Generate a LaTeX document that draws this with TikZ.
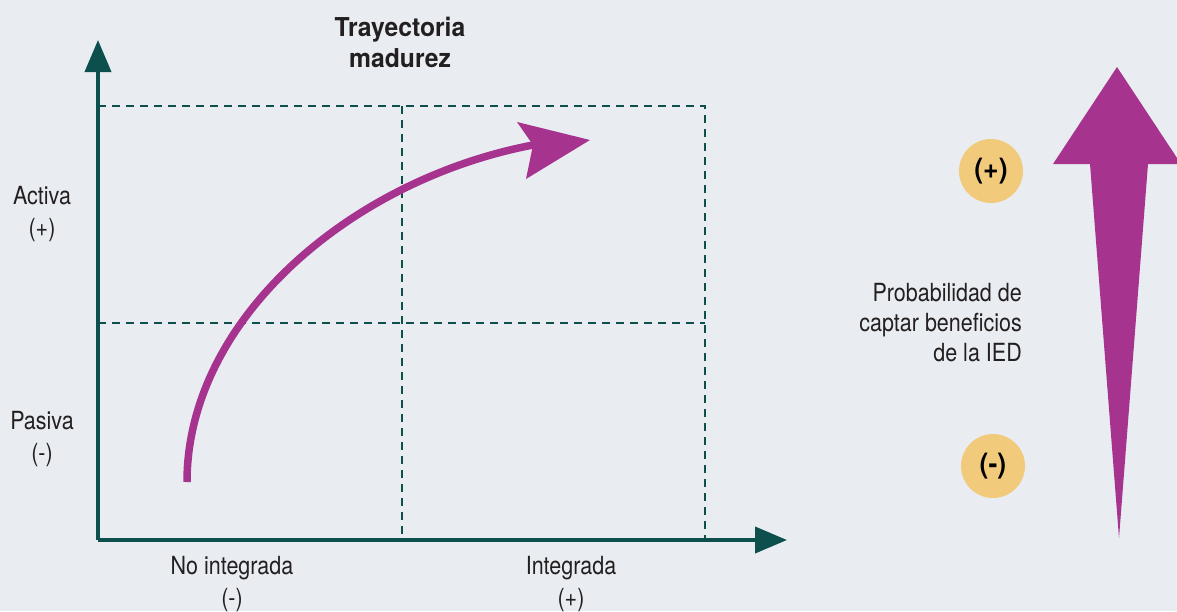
\documentclass[tikz,border=0pt]{standalone}
\usepackage{fontspec}
\setmainfont{TeX Gyre Heros}[FakeStretch=0.86]
\newfontfamily\titlefont{TeX Gyre Heros}[FakeStretch=0.95]
\usetikzlibrary{arrows.meta,positioning}
\definecolor{bgcol}{HTML}{E9EDF2}
\definecolor{tealc}{HTML}{0D4F4D}
\definecolor{purplec}{HTML}{A6348F}
\definecolor{yellowc}{HTML}{F2CA7C}
\definecolor{txtc}{HTML}{231F20}

\begin{document}
\begin{tikzpicture}[
    x=1pt, y=-1pt,
    % Styles
    axis/.style={draw=tealc, line width=4pt, -{Triangle[length=32pt,width=26pt]}},
    gridline/.style={draw=tealc, line width=1.3pt, dash pattern=on 8pt off 6pt},
    trend/.style={draw=purplec, line width=7.5pt},
    label/.style={font=\fontsize{25}{32}\selectfont, text=txtc, align=center, inner sep=0pt},
    badge/.style={circle, fill=yellowc, minimum size=64pt, inner sep=0pt, text=black,
        font=\titlefont\bfseries\fontsize{28}{30}\selectfont},
]

    % Background and bounding box
    \fill[bgcol] (0,0) rectangle (1177,611);
    \useasboundingbox (0,0) rectangle (1177,611);

    % Quadrant grid
    \coordinate (origin) at (98,540);
    \coordinate (ytip) at (98,40);
    \coordinate (xtip) at (787,540);
    \draw[gridline] (98,106) -- (705,106) -- (705,540);
    \draw[gridline] (98,323) -- (705,323);
    \draw[gridline] (402,106) -- (402,540);

    % Axes
    \draw[axis] (origin) -- (ytip);
    \draw[axis] (origin) -- (xtip);

    % Maturity trajectory
    \coordinate (tstart) at (187,482);
    \coordinate (tnotch) at (533,145);
    \coordinate (thead) at (590,140);
    \draw[trend] (tstart) .. controls (187,320) and (350,180) .. (tnotch);
    \fill[purplec] (thead) -- (517,122) -- (tnotch) -- (526,179) -- cycle;

    % Big probability arrow
    \fill[purplec] (1117,67) -- (1181,164) -- (1148,164) -- (1119,538)
        -- (1090,164) -- (1053,164) -- cycle;

    % Labels
    \node[label, font=\titlefont\bfseries\fontsize{26}{31}\selectfont] (title) at (400,42) {Trayectoria\\madurez};
    \node[label] (activa) at (42,214) {Activa\\(+)};
    \node[label] (pasiva) at (42,439) {Pasiva\\(-)};
    \node[label] (noint) at (232,584) {No integrada\\(-)};
    \node[label] (integ) at (571,584) {Integrada\\(+)};
    \node[label, align=right, anchor=east, font=\fontsize{25}{30}\selectfont] (prob) at (1022,323)
        {Probabilidad de\\captar beneficios\\de la IED};

    % Badges
    \node[badge] (plus) at (991,171) {(+)};
    \node[badge] (minus) at (993,466) {(-)};

\end{tikzpicture}
\end{document}
